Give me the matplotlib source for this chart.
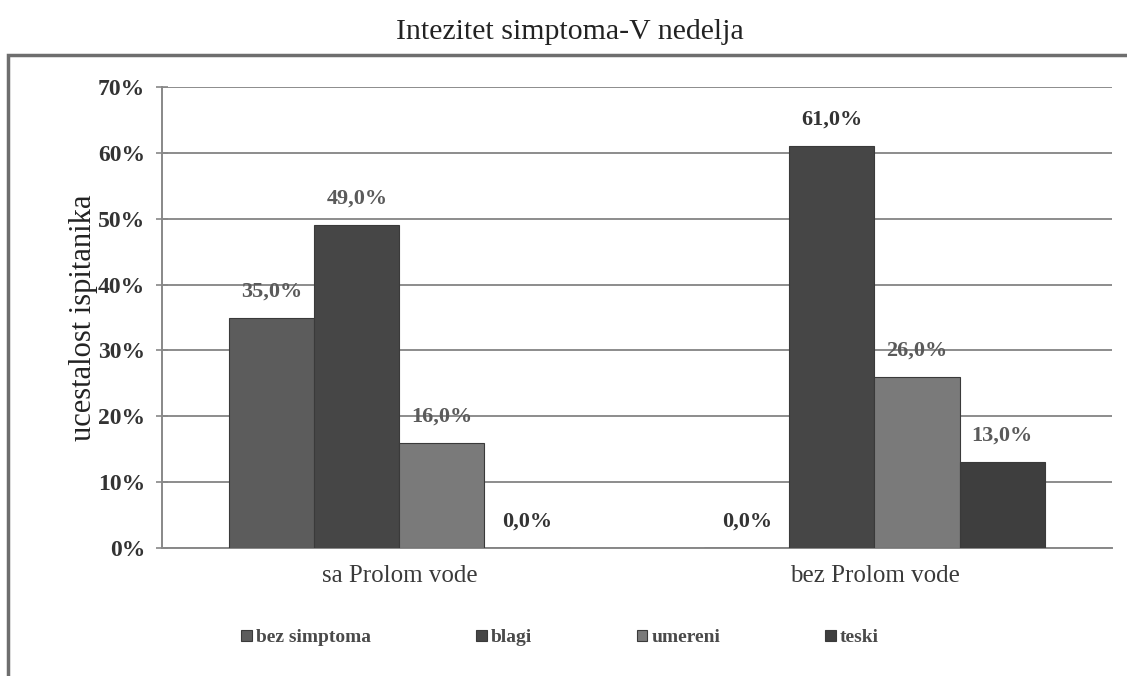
import numpy as np
import matplotlib
matplotlib.use("Agg")
import matplotlib.pyplot as plt
from matplotlib.patches import Rectangle

# data
categories = ["sa Prolom vode", "bez Prolom vode"]
series = ["bez simptoma", "blagi", "umereni", "teski"]
bez_simptoma = [35.0, 0.0]
blagi = [49.0, 61.0]
umereni = [16.0, 26.0]
teski = [0.0, 13.0]
values = [bez_simptoma, blagi, umereni, teski]
colors = ["#5c5c5c", "#464646", "#7a7a7a", "#3e3e3e"]
yticks = [0, 10, 20, 30, 40, 50, 60, 70]

plt.rcParams["font.family"] = ["Liberation Serif", "DejaVu Serif"]

fig = plt.figure(figsize=(11.27, 6.76), dpi=100)
ax = fig.add_axes([0.1437, 0.1893, 0.843, 0.682])

# outer frame of the chart area
fig.patches.append(Rectangle((8 / 1127, -0.02), 1.1, 0.9386, transform=fig.transFigure,
                             fill=False, edgecolor="#6e6e6e", linewidth=2.5))

x = np.arange(len(categories))
w = 0.179
for i, (name, vals, c) in enumerate(zip(series, values, colors)):
    pos = x + (i - 1.5) * w
    bars = ax.bar(pos, vals, w, color=c, edgecolor="#3a3a3a", linewidth=0.8, label=name, zorder=3)
    for b, v in zip(bars, vals):
        lc = "#333333" if v in (0.0, 61.0) else "#5a5a5a"
        ax.annotate(f"{v:.1f}%".replace(".", ","), (b.get_x() + b.get_width() / 2, v),
                    xytext=(0, 19), textcoords="offset points", ha="center", va="center",
                    fontsize=16, fontweight="bold", color=lc, zorder=4)

ax.set_xlim(-0.5, 1.5)
ax.set_ylim(0, 70)
ax.set_yticks(yticks)
ax.set_yticklabels([f"{t}%" for t in yticks], fontsize=17, fontweight="bold", color="#333333")
ax.set_xticks(x)
ax.set_xticklabels(categories, fontsize=18, color="#3a3a3a")
ax.tick_params(axis="x", length=0, pad=12)
ax.tick_params(axis="y", direction="inout", length=8, width=1.2, color="#888888", pad=8)
ax.yaxis.grid(True, color="#8c8c8c", linewidth=1.4, zorder=0)
ax.set_axisbelow(True)
for s in ["top", "right"]:
    ax.spines[s].set_visible(False)
ax.spines["left"].set_color("#888888")
ax.spines["bottom"].set_color("#888888")
ax.spines["left"].set_linewidth(1.4)
ax.spines["bottom"].set_linewidth(1.4)

ax.set_ylabel("ucestalost ispitanika", fontsize=22, color="#222222", labelpad=0)

fig.text(570 / 1127, 0.953, "Intezitet simptoma-V nedelja", ha="center", va="center",
         fontsize=21.5, color="#222222")

leg = fig.legend(loc="center", bbox_to_anchor=(560 / 1127, 1 - 638 / 676), ncol=4,
                 frameon=False, fontsize=14, handlelength=0.55, handleheight=0.55,
                 handletextpad=0.2, columnspacing=5.4)
for t in leg.get_texts():
    t.set_color("#4a4a4a")
    t.set_fontweight("bold")

fig.savefig("out.png", dpi=100)
